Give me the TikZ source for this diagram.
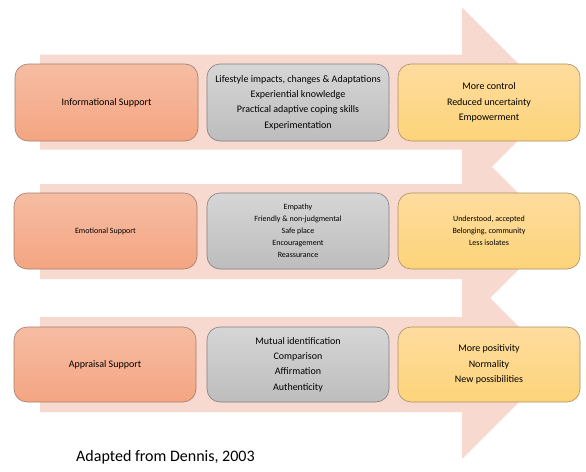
\documentclass[tikz,border=0pt]{standalone}
\usepackage{fontspec}
\setmainfont{Carlito}
\definecolor{arrowpink}{HTML}{F8D9CF}
\definecolor{otop}{HTML}{F6BDA3}
\definecolor{obot}{HTML}{F4A582}
\definecolor{oline}{HTML}{A07E6C}
\definecolor{gtop}{HTML}{D6D6D6}
\definecolor{gbot}{HTML}{BDBDBD}
\definecolor{gline}{HTML}{808080}
\definecolor{ytop}{HTML}{FEDC9E}
\definecolor{ybot}{HTML}{FDD47A}
\definecolor{yline}{HTML}{A89064}
\tikzset{
  box/.style={rounded corners=13pt, line width=0.6pt, inner sep=0pt, align=center,
    minimum height=77pt, text=black},
  obox/.style={box, draw=oline, top color=otop, bottom color=obot, minimum width=183pt},
  gbox/.style={box, draw=gline, top color=gtop, bottom color=gbot, minimum width=182pt},
  ybox/.style={box, draw=yline, top color=ytop, bottom color=ybot, minimum width=182pt},
  bigtxt/.style={font=\fontsize{10}{15.3}\selectfont},
  smalltxt/.style={font=\fontsize{8}{12}\selectfont},
}
\begin{document}
\begin{tikzpicture}[x=1pt,y=-1pt]
\useasboundingbox[fill=white] (0,0) rectangle (586,471);
% arrows
\foreach \c in {102,231.5,364.5}{
  \fill[arrowpink] (40,{\c-47.5}) -- (462,{\c-47.5}) -- (462,{\c-94.5}) -- (556.5,\c)
    -- (462,{\c+94.5}) -- (462,{\c+47.5}) -- (40,{\c+47.5}) -- cycle;
}
% row 1
\node[obox, bigtxt] (o1) at (106.5,102.5) {Informational Support};
\node[gbox, bigtxt] (g1) at (298,102.5) {Lifestyle impacts, changes \& Adaptations\\Experiential knowledge\\Practical adaptive coping skills\\Experimentation};
\node[ybox, bigtxt] (y1) at (489,102.5) {More control\\Reduced uncertainty\\Empowerment};
% row 2
\node[obox, smalltxt, minimum height=76pt] (o2) at (105.5,231) {Emotional Support};
\node[gbox, smalltxt, minimum height=76pt] (g2) at (298,231) {Empathy\\Friendly \& non-judgmental\\Safe place\\Encouragement\\Reassurance};
\node[ybox, smalltxt, minimum height=76pt] (y2) at (489,231) {Understood, accepted\\Belonging, community\\Less isolates};
% row 3
\node[obox, bigtxt, minimum width=182pt, minimum height=75pt] (o3) at (105,364.5) {Appraisal Support};
\node[gbox, bigtxt, minimum height=75pt] (g3) at (298,364.5) {Mutual identification\\Comparison\\Affirmation\\Authenticity};
\node[ybox, bigtxt, minimum height=75pt] (y3) at (489,364.5) {More positivity\\Normality\\New possibilities};
% caption
\node[anchor=base west, inner sep=0pt, font=\fontsize{16}{19}\selectfont] (cap) at (76,461) {Adapted from Dennis, 2003};
\end{tikzpicture}
\end{document}
